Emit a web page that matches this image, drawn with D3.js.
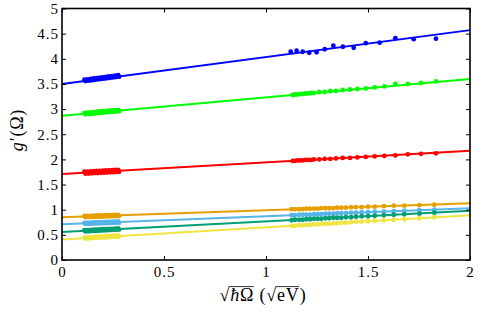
<!DOCTYPE html>
<html>
<head>
<meta charset="utf-8">
<script src="https://cdn.jsdelivr.net/npm/d3@7"></script>
<style>
  body { margin: 0; background: #fff; }
</style>
</head>
<body>
<svg id="chart"></svg>
<script>
const serif = '"Liberation Serif", "Times New Roman", serif';

// x positions of the measured points (sqrt(hbar Omega))
const lowX = [0.110,0.115,0.120,0.125,0.130,0.135,0.140,0.145,0.150,0.155,0.160,0.165,0.170,0.175,0.180,0.185,0.190,0.195,0.200,0.205,0.210,0.215,0.220,0.225,0.230,0.235,0.240,0.245,0.250,0.255,0.260,0.265,0.270,0.275,0.280];
const blueHighX = [1.121,1.150,1.180,1.212,1.248,1.288,1.330,1.377,1.430,1.489,1.557,1.634,1.724,1.833];
const greenHighX = [1.131,1.142,1.155,1.168,1.181,1.194,1.207,1.221,1.235,1.261,1.288,1.315,1.343,1.376,1.412,1.448,1.489,1.533,1.580,1.634,1.695,1.760,1.833];
const lowerHighX = [1.126,1.142,1.162,1.180,1.198,1.216,1.235,1.253,1.271,1.291,1.310,1.330,1.349,1.369,1.392,1.417,1.441,1.469,1.500,1.533,1.578,1.626,1.678,1.752,1.825];

// g'(Omega) values
const blueLowY = [3.584,3.557,3.574,3.592,3.565,3.582,3.600,3.573,3.590,3.608,3.581,3.598,3.616,3.589,3.607,3.624,3.597,3.615,3.632,3.605,3.623,3.640,3.613,3.631,3.648,3.621,3.639,3.656,3.629,3.647,3.665,3.637,3.655,3.673,3.645];
const blueHighY = [4.14,4.16,4.14,4.12,4.13,4.19,4.26,4.24,4.22,4.31,4.32,4.41,4.39,4.40];
const greenLowY = [2.925,2.897,2.914,2.930,2.902,2.919,2.936,2.908,2.925,2.941,2.913,2.930,2.947,2.919,2.936,2.952,2.924,2.941,2.958,2.930,2.947,2.963,2.935,2.952,2.969,2.941,2.957,2.974,2.946,2.963,2.980,2.952,2.968,2.985,2.957];
const greenHighY = [3.28,3.29,3.29,3.30,3.30,3.31,3.31,3.32,3.32,3.34,3.34,3.36,3.36,3.38,3.39,3.40,3.41,3.43,3.45,3.50,3.50,3.52,3.55];
const redLowY = [1.755,1.716,1.737,1.758,1.720,1.741,1.762,1.723,1.744,1.765,1.727,1.748,1.769,1.730,1.751,1.772,1.733,1.755,1.776,1.737,1.758,1.779,1.740,1.761,1.783,1.744,1.765,1.786,1.747,1.768,1.790,1.751,1.772,1.793,1.754];
const redHighY = [1.97,1.97,1.98,1.98,1.98,1.99,1.99,1.99,2.00,2.00,2.01,2.01,2.02,2.03,2.03,2.04,2.05,2.06,2.07,2.08,2.10,2.11,2.12];
const orangeLowY = [0.875,0.852,0.864,0.877,0.854,0.866,0.879,0.856,0.869,0.881,0.858,0.871,0.883,0.860,0.873,0.885,0.862,0.875,0.888,0.864,0.877,0.890,0.866,0.879,0.892,0.868,0.881,0.894,0.871,0.883,0.896,0.873,0.885,0.898,0.875];
const orangeHighY = [1.01,1.01,1.01,1.01,1.02,1.02,1.02,1.02,1.03,1.03,1.03,1.03,1.04,1.04,1.04,1.05,1.05,1.05,1.06,1.06,1.07,1.08,1.08,1.09,1.10];
const skyLowY = [0.740,0.717,0.730,0.742,0.719,0.732,0.745,0.722,0.734,0.747,0.724,0.737,0.750,0.726,0.739,0.752,0.729,0.742,0.754,0.731,0.744,0.757,0.734,0.746,0.759,0.736,0.749,0.762,0.738,0.751,0.764,0.741,0.754,0.766,0.743];
const skyHighY = [0.89,0.89,0.90,0.90,0.90,0.90,0.91,0.91,0.91,0.92,0.92,0.92,0.93,0.93,0.93,0.94,0.94,0.95,0.95,0.96,0.96,0.97,0.98,0.99,1.00];
const tealLowY = [0.592,0.569,0.582,0.595,0.572,0.585,0.598,0.575,0.588,0.601,0.579,0.592,0.605,0.582,0.595,0.608,0.585,0.598,0.611,0.588,0.601,0.614,0.591,0.604,0.617,0.594,0.607,0.620,0.597,0.610,0.624,0.601,0.614,0.627,0.604];
const tealHighY = [0.79,0.80,0.80,0.80,0.81,0.81,0.82,0.82,0.82,0.83,0.83,0.84,0.84,0.84,0.85,0.85,0.86,0.87,0.87,0.88,0.89,0.90,0.91,0.92,0.94];
const yellowLowY = [0.448,0.426,0.439,0.452,0.429,0.442,0.456,0.433,0.446,0.459,0.436,0.450,0.463,0.440,0.453,0.466,0.444,0.457,0.470,0.447,0.460,0.474,0.451,0.464,0.477,0.454,0.468,0.481,0.458,0.471,0.484,0.462,0.475,0.488,0.465];
const yellowHighY = [0.68,0.68,0.69,0.69,0.70,0.70,0.71,0.71,0.72,0.72,0.72,0.73,0.73,0.74,0.74,0.75,0.76,0.76,0.77,0.78,0.79,0.80,0.81,0.83,0.85];

// linear fits: g' = a + b * x
const fitA = [3.50, 2.87, 1.71, 0.848, 0.71, 0.557, 0.41];
const fitB = [0.535, 0.365, 0.23, 0.14, 0.16, 0.21, 0.24];
const colors = ["#0000ff", "#00ff00", "#ff0000", "#e69f00", "#56b4e9", "#009e73", "#f0e442"];

const xTicks = [0, 0.5, 1, 1.5, 2];
const yTicks = [0, 0.5, 1, 1.5, 2, 2.5, 3, 3.5, 4, 4.5, 5];

const series = [
  [lowX, blueLowY, blueHighX, blueHighY],
  [lowX, greenLowY, greenHighX, greenHighY],
  [lowX, redLowY, greenHighX, redHighY],
  [lowX, orangeLowY, lowerHighX, orangeHighY],
  [lowX, skyLowY, lowerHighX, skyHighY],
  [lowX, tealLowY, lowerHighX, tealHighY],
  [lowX, yellowLowY, lowerHighX, yellowHighY]
].map((s, i) => ({
  color: colors[i],
  a: fitA[i],
  b: fitB[i],
  points: s[0].map((x, j) => [x, s[1][j]]).concat(s[2].map((x, j) => [x, s[3][j]]))
}));

const width = 491, height = 317;
const margin = { top: 8.5, right: 21, bottom: 57, left: 62 };

const svg = d3.select("#chart").attr("width", width).attr("height", height);

const x = d3.scaleLinear().domain([0, 2]).range([margin.left, width - margin.right]);
const y = d3.scaleLinear().domain([0, 5]).range([height - margin.bottom, margin.top]);

const plot = svg.append("g");

series.forEach(s => {
  plot.append("g").selectAll("circle")
    .data(s.points)
    .join("circle")
    .attr("cx", d => x(d[0]))
    .attr("cy", d => y(d[1]))
    .attr("r", 2.4)
    .attr("fill", s.color);

  plot.append("line")
    .attr("x1", x(0)).attr("y1", y(s.a))
    .attr("x2", x(2)).attr("y2", y(s.a + s.b * 2))
    .attr("stroke", s.color)
    .attr("stroke-width", 2);
});

// axes with inward ticks on all four sides
const fmt = d3.format("");
svg.append("g")
  .attr("transform", `translate(0,${y(0)})`)
  .call(d3.axisBottom(x).tickValues(xTicks).tickFormat(fmt).tickSizeInner(-4).tickSizeOuter(0).tickPadding(6));
svg.append("g")
  .attr("transform", `translate(${x(0)},0)`)
  .call(d3.axisLeft(y).tickValues(yTicks).tickFormat(fmt).tickSizeInner(-4).tickSizeOuter(0).tickPadding(3));
svg.append("g")
  .attr("transform", `translate(0,${y(5)})`)
  .call(d3.axisTop(x).tickValues(xTicks).tickFormat("").tickSizeInner(-4).tickSizeOuter(0));
svg.append("g")
  .attr("transform", `translate(${x(2)},0)`)
  .call(d3.axisRight(y).tickValues(yTicks).tickFormat("").tickSizeInner(-4).tickSizeOuter(0));

svg.selectAll(".domain").remove();
svg.selectAll(".tick line").attr("stroke", "#000").attr("stroke-width", 1);
svg.selectAll(".tick text")
  .style("font-family", serif)
  .style("font-size", "15px")
  .style("letter-spacing", "1px")
  .attr("fill", "#000");

svg.append("rect")
  .attr("x", x(0)).attr("y", y(5))
  .attr("width", x(2) - x(0)).attr("height", y(0) - y(5))
  .attr("fill", "none")
  .attr("stroke", "#000")
  .attr("stroke-width", 1.6);

// x label:  sqrt(hbar Omega) (sqrt(eV))
const fs = 18;
const ly = 301;
const xl = svg.append("text")
  .attr("x", 263).attr("y", ly)
  .attr("text-anchor", "middle")
  .style("font-family", serif)
  .style("font-size", fs + "px")
  .style("letter-spacing", "0.8px");
xl.append("tspan").text("\u221A");
xl.append("tspan").style("font-style", "italic").text("\u0127");
xl.append("tspan").text("\u03A9 (\u221A");
xl.append("tspan").text("eV");
xl.append("tspan").text(")");

const node = xl.node();
const e0 = node.getExtentOfChar(0), e2 = node.getExtentOfChar(2);
const e5 = node.getExtentOfChar(5), e7 = node.getExtentOfChar(7);
const barY = ly - fs * 0.8;
svg.append("line")
  .attr("x1", e0.x + e0.width - 1.6).attr("x2", e2.x + e2.width - 0.5)
  .attr("y1", barY).attr("y2", barY)
  .attr("stroke", "#000").attr("stroke-width", 0.8);
svg.append("line")
  .attr("x1", e5.x + e5.width - 1.6).attr("x2", e7.x + e7.width - 0.5)
  .attr("y1", barY).attr("y2", barY)
  .attr("stroke", "#000").attr("stroke-width", 0.8);

// y label: g'(Omega)
const yl = svg.append("text")
  .attr("transform", "translate(23,130) rotate(-90)")
  .attr("text-anchor", "middle")
  .style("font-family", serif)
  .style("font-size", fs + "px")
  .style("letter-spacing", "0.8px");
yl.append("tspan").style("font-style", "italic").text("g");
yl.append("tspan").text("\u2032(\u03A9)");
</script>
</body>
</html>
